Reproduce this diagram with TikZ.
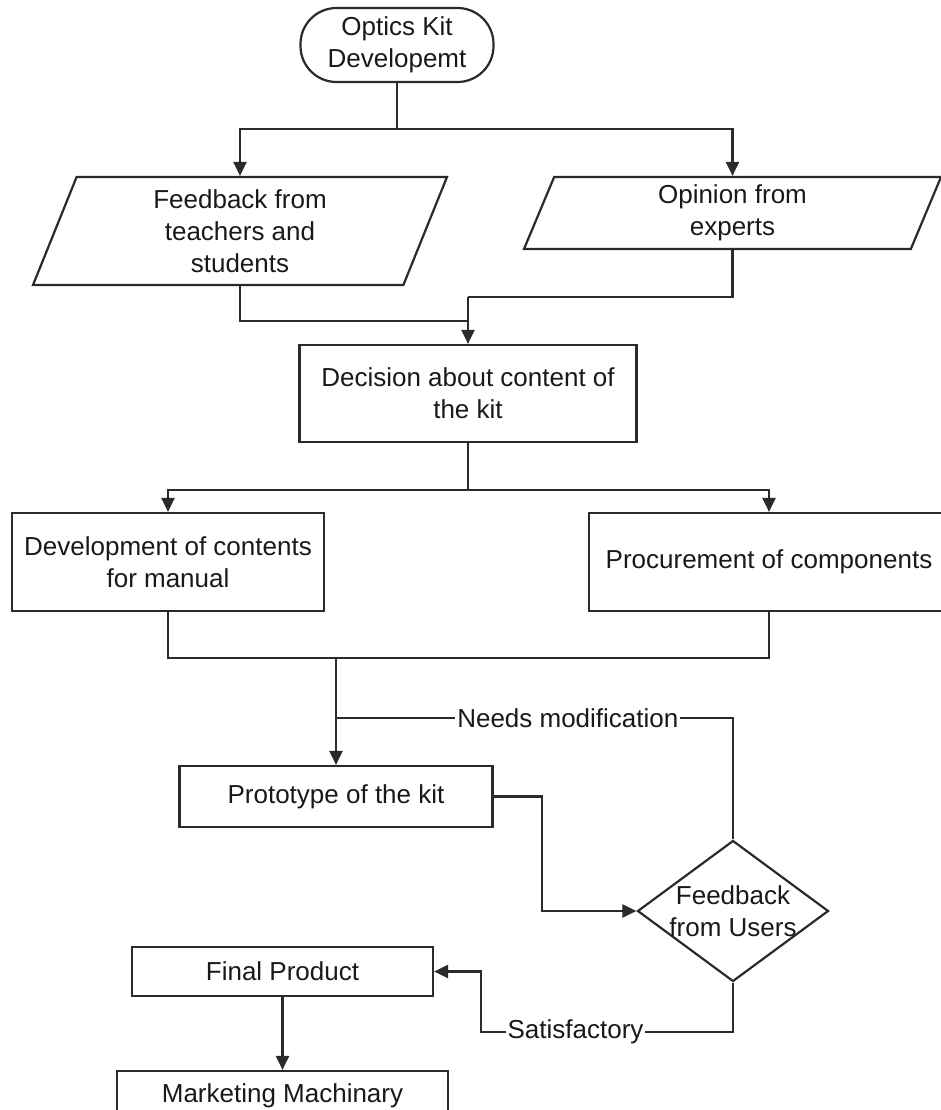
\documentclass[tikz,border=0pt]{standalone}
\usepackage{fontspec}
\setmainfont{Liberation Sans}
\usetikzlibrary{arrows.meta,shapes.geometric}
\definecolor{linegray}{HTML}{2A2A2A}
\newcommand\slantangle{63.4}
\tikzset{
  every node/.style={font=\fontsize{13pt}{16pt}\selectfont, text=black!90},
  flow/.style={draw=linegray, line width=1.1pt},
  arr/.style={flow, -{Triangle[length=7pt,width=6.5pt]}},
  procbox/.style={flow, rectangle, align=center, inner sep=2pt},
  termbox/.style={flow, rectangle, rounded corners=18pt, align=center, inner sep=2pt},
  iobox/.style={flow, trapezium, trapezium left angle=\slantangle, trapezium right angle=180-\slantangle,
    trapezium stretches body, align=center, inner sep=1pt},
  decide/.style={flow, diamond, inner sep=0pt},
  lbl/.style={fill=white, inner sep=1pt}
}

\begin{document}
\begin{tikzpicture}[x=0.5pt,y=-0.5pt]
    \clip (0,0) rectangle (941,1110);

    \node[termbox, minimum width=96.5pt, minimum height=37pt] (start) at (397,45) {Optics Kit\\Developemt};
    \node[iobox, minimum width=207pt, minimum height=54pt] (feedback) at (240,231) {Feedback from\\teachers and\\students};
    \node[iobox, minimum width=208.5pt, minimum height=36pt] (opinion) at (732.5,213) {Opinion from\\experts};
    \node[procbox, minimum width=168.5pt, minimum height=48.5pt] (decision) at (468,393.5) {Decision about content of\\the kit};
    \node[procbox, minimum width=156pt, minimum height=49pt] (develop) at (168,562) {Development of contents\\for manual};
    \node[procbox, minimum width=180pt, minimum height=49pt] (procure) at (769,562) {Procurement of components};
    \node[procbox, minimum width=156.5pt, minimum height=30.5pt] (proto) at (336,796.5) {Prototype of the kit};
    \node[decide, minimum width=95.5pt, minimum height=70.5pt,
      label={[align=center]center:Feedback\\from Users}] (users) at (733,911) {};
    \node[procbox, minimum width=150.5pt, minimum height=24.5pt] (final) at (282.5,971.5) {Final Product};
    \node[procbox, minimum width=165.5pt, minimum height=24.5pt] (market) at (282.5,1095.5) {Marketing Machinary};

    % split below the start
    \coordinate (split1) at (397,129);
    \draw[flow] (start) -- (split1);
    \draw[arr] (split1) -| (feedback.center |- feedback.north);
    \draw[arr] (split1) -| (opinion.center |- opinion.north);

    % both inputs join above the decision
    \coordinate (join1) at (468,297);
    \coordinate (join2) at (468,321);
    \draw[flow] (feedback.center |- feedback.south) |- (join2);
    \draw[flow] (opinion.center |- opinion.south) |- (join1);
    \draw[arr] (join1) -- (decision.north);

    \coordinate (split2) at (468,490);
    \draw[flow] (decision) -- (split2);
    \draw[arr] (split2) -| (develop.north);
    \draw[arr] (split2) -| (procure.north);

    \coordinate (join3) at (336,658);
    \draw[flow] (develop.south) |- (join3) -| (procure.south);
    \draw[arr] (join3) -- (proto.north);

    % loop back from the users
    \coordinate (loop1) at (733,718);
    \coordinate (loop2) at (336,718);
    \draw[flow] (users.north) -- (loop1) -- node[lbl, pos=0.416] {Needs modification} (loop2);
    \draw[arr] (proto.east) -- ++(48,0) |- (users.west);

    \coordinate (sat1) at (733,1032);
    \coordinate (sat2) at (481,1032);
    \draw[arr] (users.south) -- (sat1) -- node[lbl, pos=0.625] {Satisfactory} (sat2) |- (final.east);
    \draw[arr] (final) -- (market);
\end{tikzpicture}
\end{document}
